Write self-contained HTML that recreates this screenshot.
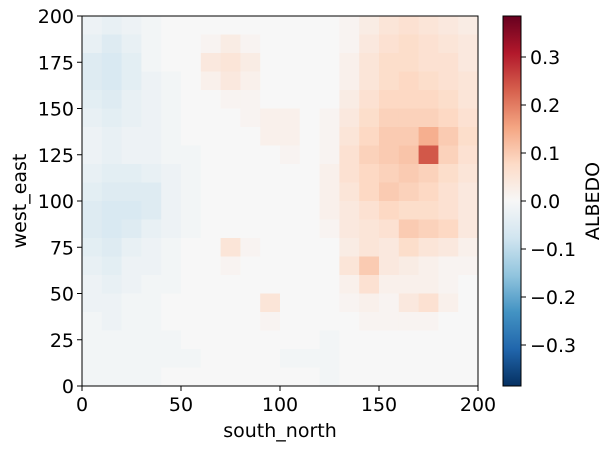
<!DOCTYPE html>
<html><head><meta charset="utf-8">
<style>
body{margin:0;background:#fff;}
svg{display:block;font-family:"DejaVu Sans","Liberation Sans",sans-serif;}
</style></head>
<body>
<svg id="chart" width="613" height="450"></svg>
<script>
const xTicks=[0,50,100,150,200];
const yTicks=[0,25,50,75,100,125,150,175,200];
const cbTicks=[-0.3,-0.2,-0.1,0.0,0.1,0.2,0.3];
const rows=[
"-2,-3,-2,-1,0,0,0,0,0,0,0,0,0,1,3,5,6,5,4,3",
"-3,-5,-3,-1,0,0,1,3,1,0,0,0,0,1,4,6,7,6,5,4",
"-5,-6,-4,-1,0,0,4,5,3,0,0,0,0,2,5,7,7,6,6,4",
"-5,-6,-4,-2,-1,0,2,4,2,0,0,0,0,2,5,7,8,7,6,5",
"-4,-5,-3,-2,-1,0,0,1,1,0,0,0,0,3,6,8,8,8,7,5",
"-3,-4,-3,-2,-1,0,0,0,1,2,2,0,1,4,7,9,9,9,8,6",
"-2,-3,-2,-2,-1,0,0,0,0,2,2,0,1,5,8,10,10,14,10,7",
"-2,-3,-2,-2,-1,-1,0,0,0,0,1,0,1,6,9,10,11,24,9,6",
"-3,-4,-4,-3,-2,-1,0,0,0,0,0,0,2,6,8,9,10,9,7,5",
"-4,-5,-5,-5,-2,-1,0,0,0,0,0,0,2,5,8,10,9,8,6,4",
"-5,-6,-6,-5,-2,-1,0,0,0,0,0,0,2,4,6,8,7,7,6,4",
"-5,-6,-5,-3,-2,-1,0,0,0,0,0,0,1,4,5,6,10,9,8,4",
"-4,-5,-3,-2,-1,0,0,5,1,0,0,0,0,3,5,4,7,5,4,2",
"-3,-4,-2,-2,-1,0,0,1,0,0,0,0,0,5,10,4,3,2,1,1",
"-2,-3,-2,-1,-1,0,0,0,0,0,0,0,0,2,6,2,2,2,1,0",
"-2,-2,-1,-1,0,0,0,0,0,5,0,0,0,1,2,1,4,6,2,0",
"-1,-2,-1,-1,0,0,0,0,0,1,0,0,0,0,1,1,1,1,0,0",
"-1,-1,-1,-1,-1,0,0,0,0,0,0,0,-1,0,0,0,0,0,0,0",
"-1,-1,-1,-1,-1,-1,0,0,0,0,-1,-1,-1,0,0,0,0,0,0,0",
"-1,-1,-1,-1,0,0,0,0,0,0,0,0,-1,0,0,0,0,0,0,0"
];
const NS="http://www.w3.org/2000/svg";
const svg=document.getElementById('chart');
const L=82,R=478,T=16,B=386;
const VMAX=0.385;
const FS=19;
const sx=v=>L+(v/200)*(R-L);
const sy=v=>B-(v/200)*(B-T);
const cbY=v=>201-(v/0.1)*48;
const stops=["#053061","#2166ac","#4393c3","#92c5de","#d1e5f0","#f7f7f7","#fddbc7","#f4a582","#d6604d","#b2182b","#67001f"];
function hex(h){return [1,3,5].map(i=>parseInt(h.substr(i,2),16));}
function cmap(v){let t=(v/VMAX+1)/2;t=Math.max(0,Math.min(1,t));const p=t*10,i=Math.min(9,Math.floor(p)),f=p-i;const a=hex(stops[i]),b=hex(stops[i+1]);return "rgb("+a.map((c,k)=>Math.round(c+(b[k]-c)*f)).join(",")+")";}
function el(tag,attrs){const e=document.createElementNS(NS,tag);for(const k in attrs)e.setAttribute(k,attrs[k]);svg.appendChild(e);return e;}
const nr=rows.length;
rows.forEach((r,ri)=>{
  const vals=r.split(",").map(Number);
  const y0=200-(ri+1)*(200/nr);
  vals.forEach((v,ci)=>{
    const x0=ci*(200/vals.length);
    const c=el('rect',{x:sx(x0),y:sy(y0+200/nr),width:sx(x0+200/vals.length)-sx(x0)+0.5,height:sy(y0)-sy(y0+200/nr)+0.5,fill:cmap(v/100)});
    
    
  });
});
const frame=el('rect',{x:L,y:T,width:R-L,height:B-T,fill:'none',stroke:'#000','stroke-width':1});


xTicks.forEach(v=>{
  const l=el('line',{x1:sx(v),x2:sx(v),y1:B,y2:B+5,stroke:'#000'});
  
  
  const t=el('text',{x:sx(v),y:B+25,'font-size':FS,'text-anchor':'middle'});t.textContent=v;
  
  
});
yTicks.forEach(v=>{
  const l=el('line',{x1:L-5,x2:L,y1:sy(v),y2:sy(v),stroke:'#000'});
  
  
  const t=el('text',{x:L-8,y:sy(v)+7,'font-size':FS,'text-anchor':'end'});t.textContent=v;
  
  
});
const xl=el('text',{x:(L+R)/2,y:437,'font-size':FS,'text-anchor':'middle'});xl.textContent='south_north';


const yl=el('text',{x:0,y:0,'font-size':FS,'text-anchor':'middle',transform:'translate(26,201) rotate(-90)'});yl.textContent='west_east';


const defs=el('defs',{});
const g=document.createElementNS(NS,'linearGradient');g.setAttribute('id','cbg');g.setAttribute('x1','0');g.setAttribute('y1','1');g.setAttribute('x2','0');g.setAttribute('y2','0');
stops.forEach((s,i)=>{const st=document.createElementNS(NS,'stop');st.setAttribute('offset',i/10);st.setAttribute('stop-color',s);g.appendChild(st);});
defs.appendChild(g);
const cb=el('rect',{x:503,y:T,width:18,height:B-T,fill:'url(#cbg)',stroke:'#000','stroke-width':1});


cbTicks.forEach(v=>{
  const l=el('line',{x1:521,x2:526,y1:cbY(v),y2:cbY(v),stroke:'#000'});
  
  
  const t=el('text',{x:530,y:cbY(v)+7,'font-size':FS});t.textContent=(v<0?'\u2212':'')+Math.abs(v).toFixed(1);
  
  
});
const cl=el('text',{x:0,y:0,'font-size':FS,'text-anchor':'middle',transform:'translate(599,201) rotate(-90)'});cl.textContent='ALBEDO';


</script>
</body></html>
